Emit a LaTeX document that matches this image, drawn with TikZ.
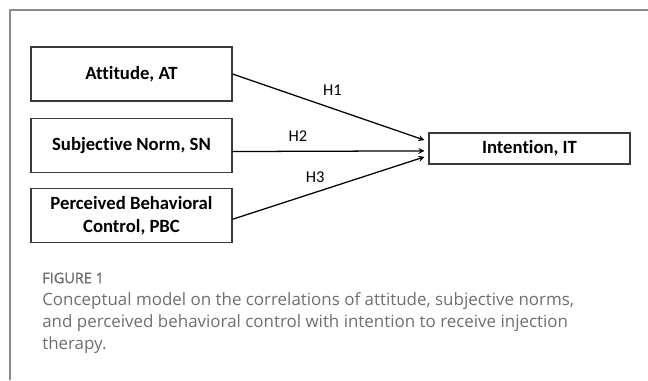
\documentclass[tikz,border=0pt]{standalone}
\usepackage{fontspec}
\setmainfont{Carlito}[Ligatures=NoCommon]
\newfontfamily\capfont{Open Sans}
\newfontfamily\figfont{Open Sans}[FakeBold=1.2]
\usetikzlibrary{positioning}
\usetikzlibrary{arrows}
\definecolor{frameC}{HTML}{8A8A8A}
\definecolor{capC}{HTML}{6E6E6E}
\definecolor{boxC}{HTML}{3A3A3A}
\tikzstyle{cbx}=[draw=boxC, line width=0.8pt, shape=rectangle, minimum height=1.35cm, minimum width=5.025cm, inner sep=0pt, align=center, font=\fontsize{13.3}{16.4}\selectfont\bfseries]
\tikzstyle{ibx}=[draw=boxC, line width=0.8pt, shape=rectangle, minimum height=0.775cm, minimum width=5.025cm, inner sep=0pt, font=\fontsize{13.3}{16.4}\selectfont\bfseries]
\tikzstyle{hlb}=[inner sep=0pt, font=\fontsize{11.7}{14}\selectfont]
\tikzstyle{harrow}=[line width=0.9pt, >=stealth, ->, color=black]
\tikzstyle{frm}=[line width=1.4pt, color=frameC]
\tikzstyle{figlb}=[inner sep=0pt, anchor=west, text=capC, font=\figfont\fontsize{10.3}{12}\selectfont]
\tikzstyle{captx}=[inner sep=0pt, anchor=north west, align=left, text=capC, font=\capfont\fontsize{12.05}{15.6}\selectfont]
\def\cbx{\node[style=cbx]}
\def\ibx{\node[style=ibx]}
\def\harrow{\draw[style=harrow]}

\begin{document}
\begin{tikzpicture}
      \useasboundingbox (0,0) rectangle (16.2,-9.5);
      % frame
      \coordinate (fTR) at (16.2,-0.25);
      \coordinate (fTL) at (0.25,-0.25);
      \coordinate (fBL) at (0.25,-9.5);
      \draw[style=frm] (fTR) -- (fTL) -- (fBL);

      % constructs
      \cbx (AT)  at  (3.2875,-1.85)      {Attitude, AT};
      \cbx (SN)  [below=0.4cm of AT]     {Subjective Norm, SN};
      \cbx (PBC) [below=0.375cm of SN]   {Perceived Behavioral\\Control, PBC};
      \ibx (IT)  at  (13.2375,-3.7125)   {Intention, IT};

      % hypotheses
      \harrow (AT.east) -- node[style=hlb, pos=0.52, yshift=0.46cm] (H1) {H1} ([xshift=-0.1cm, yshift=0.21cm]IT.west);
      \harrow ([yshift=-0.16cm]SN.east) -- node[style=hlb, pos=0.34, yshift=0.375cm] (H2) {H2} ([xshift=-0.1cm, yshift=-0.06cm]IT.west);
      \harrow ([yshift=-0.1cm]PBC.east) -- node[style=hlb, pos=0.43, yshift=0.375cm] (H3) {H3} ([xshift=-0.1cm, yshift=-0.21cm]IT.west);

      % caption
      \node[style=figlb] (fig) at (1.05,-6.95) {FIGURE 1};
      \node[style=captx] (cap) at (1.05,-7.3) {Conceptual model on the correlations of attitude, subjective norms,\\and perceived behavioral control with intention to receive injection\\therapy.};
\end{tikzpicture}
\end{document}
